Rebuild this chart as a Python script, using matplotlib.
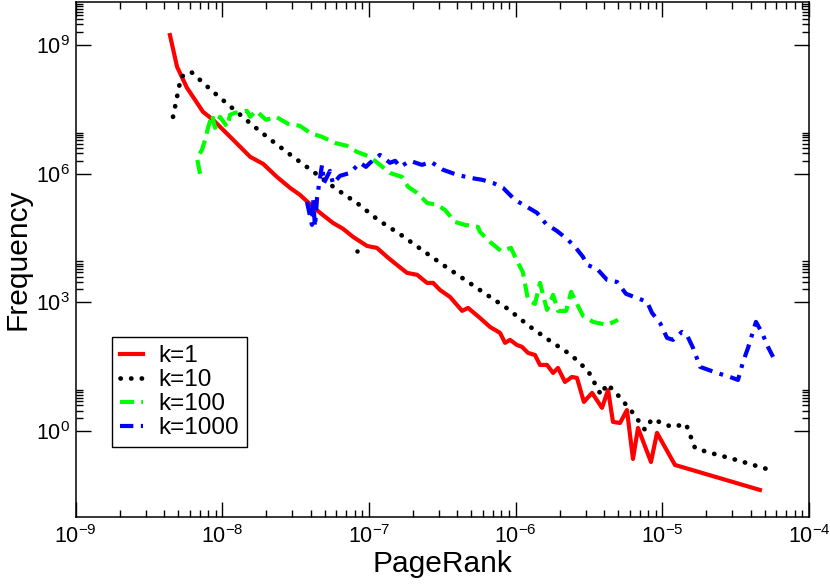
import matplotlib
matplotlib.use("Agg")
import matplotlib.pyplot as plt
from matplotlib.ticker import FixedLocator, NullFormatter, LogFormatterSciNotation

# ---------------- data ----------------
k1_pagerank = [4.4e-9, 4.92e-9, 5.75e-9, 7.4e-9, 8.65e-9, 1.19e-8, 1.55e-8, 1.90e-8, 2.36e-8,
               2.90e-8, 3.39e-8, 4.16e-8, 4.65e-8, 5.69e-8, 6.66e-8, 7.79e-8, 9.7e-8, 1.135e-7,
               1.33e-7, 1.55e-7, 1.82e-7, 2.13e-7, 2.49e-7, 2.74e-7, 3.05e-7, 3.57e-7, 4.32e-7,
               4.74e-7, 5.71e-7, 6.69e-7, 7.83e-7, 8.47e-7, 9.16e-7, 1.02e-6, 1.106e-6, 1.215e-6,
               1.355e-6, 1.466e-6, 1.637e-6, 1.80e-6, 1.945e-6, 2.17e-6, 2.42e-6, 2.62e-6,
               2.92e-6, 3.32e-6, 3.88e-6, 4.27e-6, 4.61e-6, 5.15e-6, 5.74e-6, 6.31e-6, 6.83e-6,
               8.37e-6, 9.2e-6, 1.22e-5, 4.63e-5]
k1_freq = [1.7e9, 3.1e8, 1.0e8, 2.75e7, 1.8e7, 6.1e6, 2.47e6, 1.69e6, 8.4e5,
           4.67e5, 3.2e5, 1.68e5, 1.22e5, 7.1e4, 5.2e4, 3.37e4, 2.07e4, 1.86e4,
           1.15e4, 7.5e3, 4.87e3, 4.4e3, 2.85e3, 2.85e3, 1.95e3, 1.34e3, 634,
           745, 435, 268, 195, 114, 134, 102, 92, 66.5,
           59.7, 34.9, 34.9, 22.7, 29.7, 14.0, 18.3, 17.4,
           4.8, 7.8, 3.5, 9.1, 1.64, 1.55, 3.1, 0.225, 1.19,
           0.191, 0.91, 0.163, 0.0426]

k10_pagerank = [4.62e-9, 5.24e-9, 6.13e-9, 8.52e-9, 1.166e-8, 1.60e-8, 2.19e-8, 3.04e-8, 4.29e-8,
                5.97e-8, 8.43e-8, 1.153e-7, 1.655e-7, 2.30e-7, 3.20e-7, 4.52e-7, 6.38e-7, 8.87e-7,
                1.233e-6, 1.716e-6, 2.39e-6, 3.12e-6, 3.82e-6, 4.20e-6, 4.83e-6, 6.31e-6, 7.62e-6,
                8.51e-6, 1.164e-5, 1.45e-5, 1.67e-5, 2.02e-5, 3.03e-5, 5.42e-5]
k10_freq = [2.11e7, 1.80e8, 2.36e8, 8.5e7, 3.42e7, 1.37e7, 5.8e6, 2.47e6, 1.04e6,
            4.42e5, 1.98e5, 8.4e4, 3.74e4, 1.67e4, 7.5e3, 3.35e3, 1.5e3, 705,
            283, 127, 59.7, 25.3, 6.98, 12.6, 7.8, 2.66, 1.07,
            1.92, 1.25, 1.47, 0.405, 0.327, 0.225, 0.125]
k10_stray_pagerank = [8.3e-8]
k10_stray_freq = [1.58e4]

k100_pagerank = [7.06e-9, 6.73e-9, 7.28e-9, 7.64e-9, 8.0e-9, 8.52e-9, 8.93e-9, 9.66e-9, 1.08e-8,
                 1.13e-8, 1.22e-8, 1.476e-8, 1.55e-8, 1.70e-8, 1.99e-8, 2.33e-8, 2.81e-8, 3.39e-8,
                 3.97e-8, 4.79e-8, 5.87e-8, 7.09e-8, 8.3e-8, 1.017e-7, 1.19e-7, 1.39e-7, 1.68e-7,
                 1.85e-7, 2.13e-7, 2.49e-7, 2.91e-7, 3.30e-7, 3.86e-7, 4.52e-7, 5.54e-7, 5.71e-7,
                 6.69e-7, 7.95e-7, 9.3e-7, 1.02e-6, 1.12e-6, 1.215e-6, 1.355e-6, 1.466e-6,
                 1.637e-6, 1.80e-6, 1.945e-6, 2.21e-6, 2.39e-6, 2.62e-6, 2.88e-6, 3.37e-6,
                 4.2e-6, 4.99e-6]
k100_freq = [9.9e5, 2.33e6, 3.59e6, 6.1e6, 1.17e7, 2.35e7, 1.17e7, 2.11e7, 1.23e7,
             2.35e7, 2.61e7, 2.91e7, 2.11e7, 2.91e7, 1.8e7, 2.11e7, 1.45e7, 1.30e7,
             8.9e6, 7.2e6, 5.2e6, 4.45e6, 3.22e6, 2.47e6, 1.6e6, 1.04e6, 8.4e5,
             4.92e5, 3.57e5, 2.08e5, 1.87e5, 1.43e5, 7.5e4, 6.4e4, 5.75e4, 4.4e4,
             2.57e4, 1.58e4, 1.86e4, 9.3e3, 5.1e3, 1.14e3, 923, 2.85e3,
             668, 1.5e3, 634, 634, 1.76e3, 923, 484, 351,
             299, 391]

k1000_pagerank = [3.78e-8, 4.09e-8, 4.16e-8, 4.29e-8, 4.43e-8, 4.79e-8, 4.94e-8, 5.43e-8, 5.69e-8,
                  6.35e-8, 7.43e-8, 8.69e-8, 9.55e-8, 1.017e-7, 1.19e-7, 1.39e-7, 1.51e-7, 1.63e-7,
                  1.91e-7, 2.30e-7, 2.65e-7, 3.2e-7, 3.99e-7, 4.89e-7, 5.9e-7, 7.0e-7, 8.2e-7,
                  9.9e-7, 1.196e-6, 1.40e-6, 1.61e-6, 1.91e-6, 2.24e-6, 2.54e-6, 2.88e-6, 3.07e-6,
                  3.59e-6, 4.2e-6, 4.91e-6, 5.66e-6, 6.72e-6, 7.87e-6, 8.51e-6, 9.64e-6, 1.077e-5,
                  1.183e-5, 1.36e-5, 1.47e-5, 1.62e-5, 1.81e-5, 2.36e-5, 2.89e-5, 3.28e-5, 3.55e-5,
                  3.84e-5, 4.35e-5, 4.79e-5, 5.25e-5, 5.69e-5]
k1000_freq = [2.2e5, 6.4e4, 2.73e5, 5.75e4, 2.73e5, 1.6e6, 6.1e5, 1.16e6, 5.8e5,
              8.9e5, 1.04e6, 1.79e6, 1.44e6, 1.79e6, 2.74e6, 1.79e6, 1.99e6, 1.44e6,
              1.99e6, 1.6e6, 1.88e6, 1.23e6, 9.4e5, 8.0e5, 7.2e5, 6.1e5, 4.67e5,
              2.45e5, 1.68e5, 1.22e5, 6.76e4, 4.64e4, 3.02e4, 1.97e4, 1.15e4, 7.5e3,
              6.04e3, 3.35e3, 3.0e3, 1.58e3, 1.27e3, 1.03e3, 569, 333, 149,
              134, 205, 175, 87, 31.4, 22.7, 18.3, 15.6, 41,
              87, 351, 195, 92, 53.7]

series_labels = ["k=1", "k=10", "k=100", "k=1000"]
x_tick_values = [1e-9, 1e-8, 1e-7, 1e-6, 1e-5, 1e-4]
y_tick_values = [1e0, 1e3, 1e6, 1e9]

# ---------------- style ----------------
plt.rcParams["font.family"] = ["Liberation Sans", "DejaVu Sans"]
plt.rcParams["mathtext.fontset"] = "custom"
plt.rcParams["mathtext.rm"] = "Liberation Sans"
plt.rcParams["mathtext.it"] = "Liberation Sans:italic"
plt.rcParams["mathtext.bf"] = "Liberation Sans:bold"
plt.rcParams["axes.unicode_minus"] = False

fig = plt.figure(figsize=(8.3, 5.87), dpi=100)
ax = fig.add_axes([0.0910, 0.1193, 0.8837, 0.8773])

lw = 3.0
ax.plot(k1_pagerank, k1_freq, color="#ff0000", lw=lw, solid_joinstyle="round",
        label=series_labels[0])
ax.plot(k10_pagerank, k10_freq, color="black", lw=3.4, linestyle=(0, (0.05, 2.2)),
        dash_capstyle="round", dash_joinstyle="round", label=series_labels[1])
ax.plot(k10_stray_pagerank, k10_stray_freq, color="black", marker="o", markersize=2.2,
        linestyle="none")
ax.plot(k100_pagerank, k100_freq, color="#00ff00", lw=lw, linestyle=(0, (3.4, 1.7)),
        dash_capstyle="butt", dash_joinstyle="round", label=series_labels[2])
ax.plot(k1000_pagerank, k1000_freq, color="#0000ff", lw=lw,
        linestyle=(0, (3.2, 1.8, 0.9, 1.8)), dash_capstyle="butt",
        dash_joinstyle="round", label=series_labels[3])

ax.set_xscale("log")
ax.set_yscale("log")
ax.set_xlim(1e-9, 1e-4)
ax.set_ylim(1e-2, 1e10)

ax.xaxis.set_major_locator(FixedLocator(x_tick_values))
ax.xaxis.set_minor_locator(FixedLocator([m * t for t in x_tick_values[:-1] for m in range(2, 10)]))
ax.yaxis.set_major_locator(FixedLocator(y_tick_values))
ax.yaxis.set_minor_locator(FixedLocator([m * t for t in y_tick_values for m in range(2, 10)]))
ax.xaxis.set_major_formatter(LogFormatterSciNotation())
ax.yaxis.set_major_formatter(LogFormatterSciNotation())
ax.xaxis.set_minor_formatter(NullFormatter())
ax.yaxis.set_minor_formatter(NullFormatter())

ax.tick_params(which="both", direction="in", top=True, right=True, width=1.0, colors="black")
ax.tick_params(which="major", length=10.5, labelsize=15.5)
ax.tick_params(axis="x", which="major", pad=6)
ax.tick_params(axis="y", which="major", pad=4)
ax.tick_params(which="minor", length=5)
for sp in ax.spines.values():
    sp.set_linewidth(1.1)
    sp.set_color("black")

ax.set_xlabel("PageRank", fontsize=21.5, labelpad=1)
ax.set_ylabel("Frequency", fontsize=21.5, labelpad=3)

leg = ax.legend(loc="lower left", bbox_to_anchor=(0.0498, 0.136), borderaxespad=0,
                fontsize=17.5, frameon=True, fancybox=False, edgecolor="black",
                framealpha=1, handlelength=0.95, handletextpad=0.65, labelspacing=0.08,
                borderpad=0.32)
leg.get_frame().set_linewidth(1.0)

fig.savefig("out.png", dpi=100)
